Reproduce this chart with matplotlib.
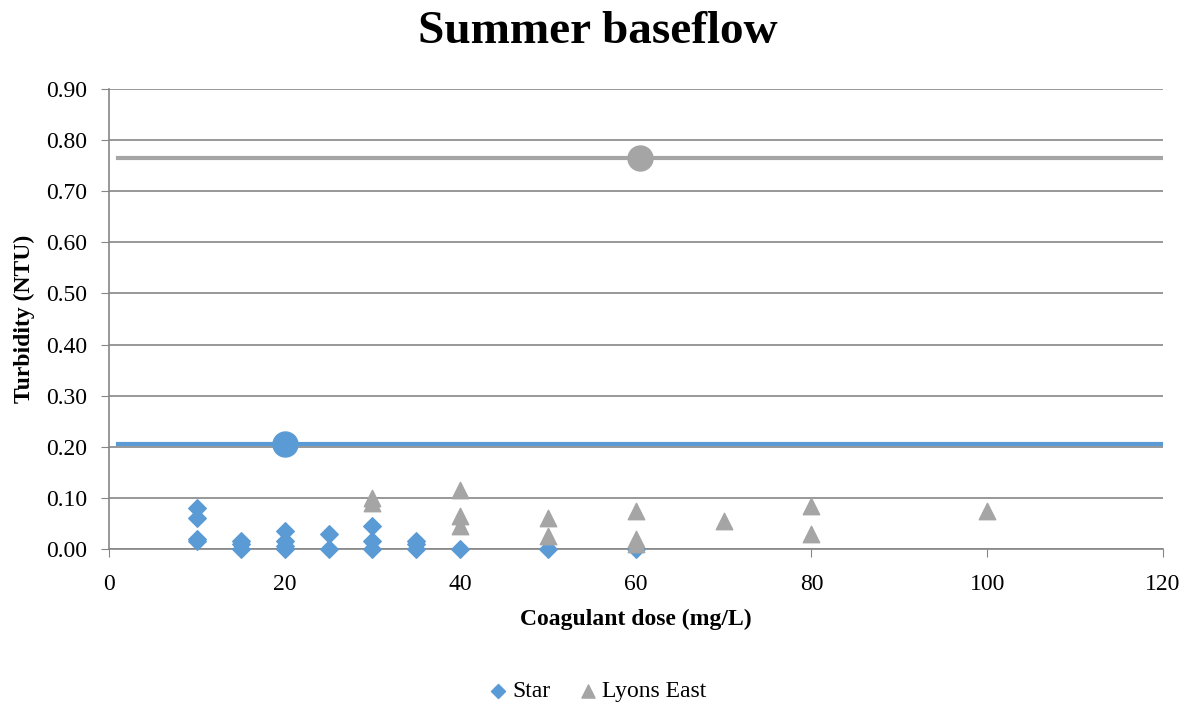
import numpy as np
import matplotlib
matplotlib.use("Agg")
import matplotlib.pyplot as plt

plt.rcParams['font.family'] = ['Liberation Serif', 'DejaVu Serif']

# Star jar tests
star_x = [10, 10, 10, 10, 15, 15, 15, 20, 20, 20, 20, 25, 25, 30, 30, 30, 35, 35, 35, 40, 50, 60]
star_y = [0.08, 0.06, 0.02, 0.015, 0.015, 0.01, 0.0, 0.035, 0.015, 0.005, 0.0, 0.03, 0.0,
          0.045, 0.015, 0.0, 0.015, 0.01, 0.0, 0.0, 0.0, 0.0]

# Lyons East jar tests
lyons_x = [30, 30, 40, 40, 40, 50, 50, 60, 60, 60, 70, 80, 80, 100]
lyons_y = [0.10, 0.09, 0.115, 0.065, 0.045, 0.06, 0.025, 0.075, 0.02, 0.01, 0.055, 0.085, 0.03, 0.075]

# plant operating levels (line span and marker position)
line_x = [1, 120]
star_plant = 0.205
star_plant_dose = 20
lyons_plant = 0.765
lyons_plant_dose = 60.5

blue = '#5b9bd5'
grey = '#a5a5a5'

fig = plt.figure(figsize=(11.95, 7.06), dpi=100)
ax = fig.add_axes([0.0912, 0.2224, 0.8818, 0.6516])

ax.plot(line_x, [lyons_plant, lyons_plant], color=grey, lw=3, zorder=2)
ax.plot(line_x, [star_plant, star_plant], color=blue, lw=3, zorder=2)
ax.plot([lyons_plant_dose], [lyons_plant], 'o', color=grey, ms=18, zorder=3)
ax.plot([star_plant_dose], [star_plant], 'o', color=blue, ms=18, zorder=3)

ax.scatter(star_x, star_y, marker='D', s=80, color=blue, zorder=4, label='Star', clip_on=False)
ax.scatter(lyons_x, lyons_y, marker='^', s=140, color=grey, zorder=5, label='Lyons East', clip_on=False)

ax.set_xlim(0, 120)
ax.set_ylim(0, 0.9)
ax.set_xticks(np.arange(0, 121, 20))
ax.set_yticks(np.arange(0, 0.91, 0.1))
ax.set_yticklabels([f'{v:.2f}' for v in np.arange(0, 0.91, 0.1)])
ax.tick_params(labelsize=17, length=6, color='#868686')
ax.tick_params(axis='y', pad=10)
ax.tick_params(axis='x', pad=12)
ax.yaxis.grid(True, color='#868686', lw=1.2)
ax.set_axisbelow(True)
for s in ['top', 'right']:
    ax.spines[s].set_visible(False)
for s in ['left', 'bottom']:
    ax.spines[s].set_color('#868686')
    ax.spines[s].set_linewidth(1.2)

ax.set_xlabel('Coagulant dose (mg/L)', fontsize=17, fontweight='bold', labelpad=10)
ax.set_ylabel('Turbidity (NTU)', fontsize=17, fontweight='bold', labelpad=8)
fig.suptitle('Summer baseflow', fontsize=34, fontweight='bold', y=0.985)

leg = fig.legend(handles=ax.collections, loc='lower center', bbox_to_anchor=(0.5, -0.025),
                 ncol=2, frameon=False, fontsize=17, handletextpad=0.2, handlelength=0.8,
                 columnspacing=1.2, markerscale=0.8)

fig.savefig('out.png', dpi=100)
